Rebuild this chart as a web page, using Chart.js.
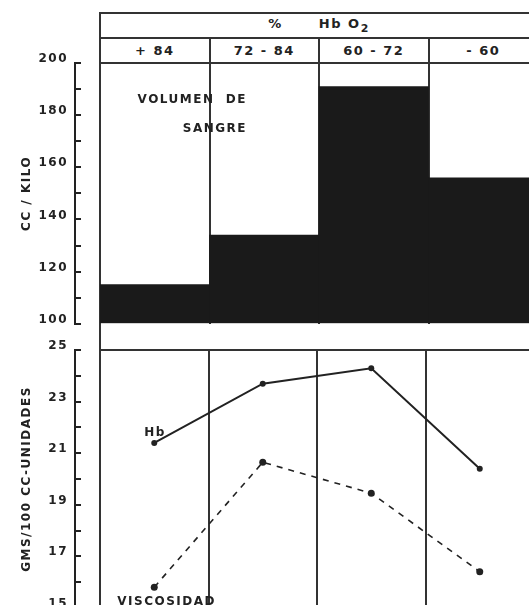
<!DOCTYPE html>
<html lang="es">
<head>
<meta charset="UTF-8">
<meta name="viewport" content="width=device-width, initial-scale=1.0">
<title>Volumen de sangre, Hb y viscosidad</title>
<script src="https://cdn.jsdelivr.net/npm/chart.js"></script>
<style>
    body { margin: 0; background: #fff; }
    #wrap { position: relative; width: 529px; height: 605px; overflow: hidden; font-family: "DejaVu Sans", sans-serif; color: #222; }
    #head { position: absolute; left: 99px; top: 12px; width: 440px; border-collapse: collapse; table-layout: fixed; }
    #head tr { height: 25px; }
    #head td { border: 2px solid #333; padding: 0; text-align: center; font-size: 13px; font-weight: bold; letter-spacing: 1.5px; white-space: pre; }
    #head td.c0 { width: 110px; }
    #head td.c1 { width: 109px; }
    #head td.c2 { width: 109px; }
    #head sub { font-size: 11px; }
    #upper { position: absolute; left: 0; top: 0; }
    #lower { position: absolute; left: 0; top: 330px; }
    #edge { position: absolute; left: 99px; top: 320px; width: 2px; height: 32px; background: #333; }
</style>
</head>
<body>
<div id="wrap">
    <table id="head">
        <tr><td colspan="4" id="axisTitle"></td></tr>
        <tr id="catRow"></tr>
    </table>
    <div id="edge"></div>
    <canvas id="upper" width="538" height="344"></canvas>
    <canvas id="lower" width="538" height="298"></canvas>
</div>

<script>
    // data
    const categories = ['+ 84', '72 - 84', '60 - 72', '- 60'];
    const volumen = [115, 134, 191, 156];        // cc / kilo
    const hb = [21.4, 23.7, 24.3, 20.4];         // gms / 100 cc
    const viscosidad = [15.8, 20.65, 19.45, 16.4];

    const ink = '#222';
    const tickFont = { family: 'DejaVu Sans', size: 12, weight: 'bold' };

    // header: "% Hb O2" over the four saturation groups
    document.getElementById('axisTitle').innerHTML = '%      Hb O<sub>2</sub>';
    const catRow = document.getElementById('catRow');
    categories.forEach((c, i) => {
        const td = document.createElement('td');
        td.className = 'c' + i;
        td.textContent = c;
        catRow.appendChild(td);
    });

    const spacing = {
        id: 'spacing',
        beforeDraw(chart) { chart.ctx.letterSpacing = '1.5px'; }
    };

    function yAxis(min, max, step, labelEvery, title) {
        return {
            position: 'left', weight: 10, min: min, max: max,
            afterFit: s => { s.width = 75; },
            ticks: {
                stepSize: step, padding: 13, labelOffset: -4, color: ink, font: tickFont,
                callback: v => ((max - v) % labelEvery === 0 ? v : '')
            },
            grid: { drawOnChartArea: false, tickLength: -6, color: ink, lineWidth: 2 },
            border: { color: ink, width: 2 },
            title: { display: true, text: title, color: ink, font: tickFont, padding: { top: 20 } }
        };
    }

    const spacer = {
        type: 'linear', position: 'left', weight: 0,
        grid: { display: false, drawTicks: false }, ticks: { display: false }, border: { display: false },
        afterFit: s => { s.width = 25; }
    };

    // upper panel: blood volume
    new Chart(document.getElementById('upper'), {
        type: 'bar',
        data: {
            labels: categories,
            datasets: [{
                label: 'Volumen de sangre', data: volumen, base: 100,
                backgroundColor: '#1a1a1a', barPercentage: 1, categoryPercentage: 1
            }]
        },
        options: {
            responsive: false, animation: false,
            layout: { padding: { top: 63, bottom: 0, right: 0 } },
            plugins: { legend: { display: false }, tooltip: { enabled: false } },
            scales: {
                y: yAxis(100, 200, 10, 20, 'CC / KILO'),
                ySpace: spacer,
                x: {
                    grid: { offset: true, color: '#333', lineWidth: 2, drawTicks: false },
                    ticks: { display: false }, border: { display: false }
                }
            }
        },
        plugins: [spacing, {
            id: 'volLabel',
            afterDatasetsDraw(chart) {
                const ctx = chart.ctx, a = chart.chartArea;
                ctx.save();
                ctx.font = 'bold 12px "DejaVu Sans"';
                ctx.fillStyle = ink;
                ctx.textAlign = 'right';
                ctx.fillText('VOLUMEN  DE', a.left + 147, a.top + 40);
                ctx.fillText('SANGRE', a.left + 147, a.top + 69);
                ctx.restore();
            }
        }]
    });

    // lower panel: Hb and viscosity
    new Chart(document.getElementById('lower'), {
        type: 'line',
        data: {
            labels: categories,
            datasets: [
                {
                    label: 'Hb', data: hb, yAxisID: 'y',
                    borderColor: ink, borderWidth: 2, pointRadius: 3,
                    pointBackgroundColor: ink, pointBorderWidth: 0, tension: 0
                },
                {
                    label: 'VISCOSIDAD', data: viscosidad, yAxisID: 'y',
                    borderColor: ink, borderWidth: 1.6, borderDash: [6, 6], pointRadius: 3.5,
                    pointBackgroundColor: ink, pointBorderWidth: 0, tension: 0
                }
            ]
        },
        options: {
            responsive: false, animation: false,
            layout: { padding: { top: 0, bottom: 0, right: 0 } },
            plugins: { legend: { display: false }, tooltip: { enabled: false } },
            scales: {
                y: yAxis(15, 25, 1, 2, 'GMS/100 CC-UNIDADES'),
                ySpace: spacer,
                x: {
                    offset: true,
                    grid: { offset: true, color: '#333', lineWidth: 2, drawTicks: false },
                    ticks: { display: false }, border: { display: false }
                },
                xTop: {
                    type: 'category', position: 'top', labels: categories, offset: true,
                    grid: { display: false, drawTicks: false }, ticks: { display: false },
                    border: { display: true, color: '#333', width: 2 }
                }
            }
        },
        plugins: [spacing, {
            id: 'seriesLabels',
            afterDatasetsDraw(chart) {
                const ctx = chart.ctx;
                const p0 = chart.getDatasetMeta(0).data[0];
                const p1 = chart.getDatasetMeta(1).data[0];
                ctx.save();
                ctx.font = 'bold 12px "DejaVu Sans"';
                ctx.fillStyle = ink;
                ctx.fillText('Hb', p0.x - 10, p0.y - 7);
                ctx.fillText('VISCOSIDAD', p1.x - 37, p1.y + 18);
                ctx.restore();
            }
        }]
    });
</script>
</body>
</html>
